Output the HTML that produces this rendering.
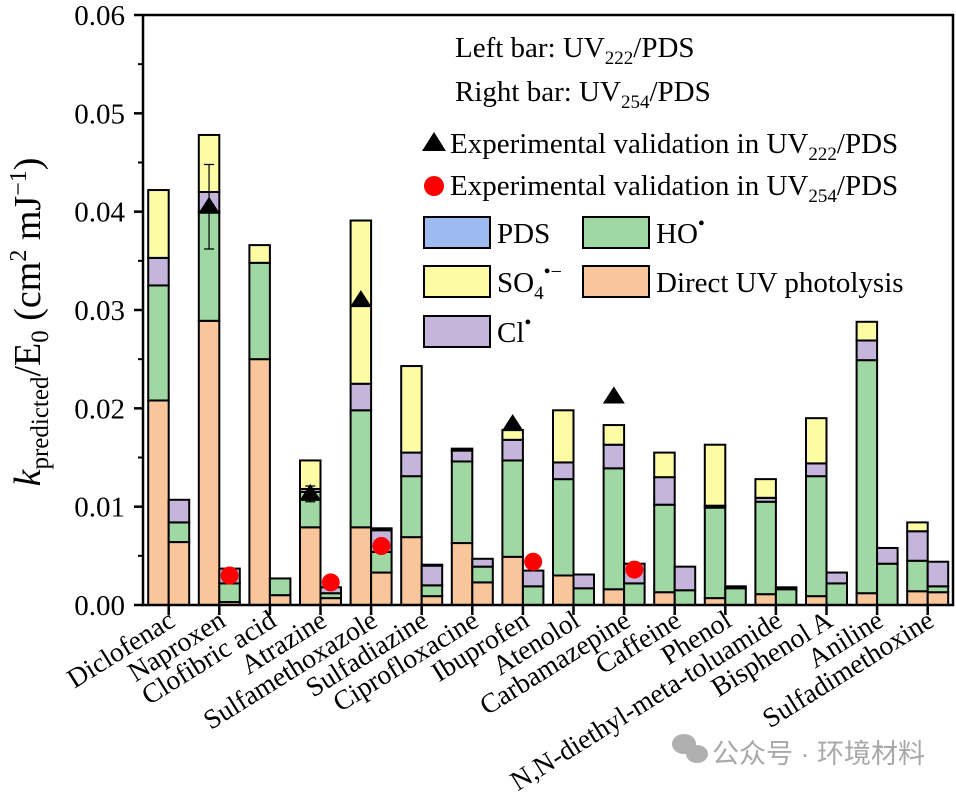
<!DOCTYPE html>
<html><head><meta charset="utf-8"><style>
body{margin:0;background:#fff}
svg{display:block;font-family:"Liberation Serif",serif}
</style></head><body>
<svg id="chart" width="956" height="792"></svg>
<script>
const categories=["Diclofenac","Naproxen","Clofibric acid","Atrazine","Sulfamethoxazole","Sulfadiazine","Ciprofloxacine","Ibuprofen","Atenolol","Carbamazepine","Caffeine","Phenol","N,N-diethyl-meta-toluamide","Bisphenol A","Aniline","Sulfadimethoxine"];
// left bar (UV222/PDS) segments
const leftUV=[.0208,.0289,.0250,.0079,.0079,.0069,.0063,.0049,.0030,.0016,.0013,.0007,.0011,.0009,.0012,.0014];
const leftHO=[.0117,.0111,.0098,.0036,.0119,.0062,.0083,.0098,.0098,.0123,.0089,.0092,.0094,.0122,.0237,.0031];
const leftCl=[.0028,.0020,0,.0003,.0027,.0024,.0011,.0021,.0017,.0024,.0028,.0002,.0004,.0013,.0020,.0030];
const leftSO4=[.0069,.0058,.0018,.0029,.0166,.0088,0,.0010,.0053,.0020,.0025,.0062,.0019,.0046,.0019,.0009];
const leftPDS=[0,0,0,0,0,0,.0002,0,0,0,0,0,0,0,0,0];
// right bar (UV254/PDS) segments
const rightUV=[.0064,.0003,.0010,.0007,.0033,.0009,.0023,0,0,0,0,0,0,0,0,.0013];
const rightHO=[.0020,.0019,.0017,.0005,.0021,.0011,.0016,.0019,.0017,.0022,.0015,.0017,.0016,.0022,.0042,.0006];
const rightCl=[.0023,.0015,0,.0006,.0022,.0020,.0008,.0016,.0014,.0020,.0024,.0002,.0002,.0011,.0016,.0025];
const rightSO4=[0,0,0,0,0,0,0,0,0,0,0,0,0,0,0,0];
const rightPDS=[0,0,0,0,.0002,.0001,0,0,0,0,0,0,0,0,0,0];
// experimental markers
const triIdx=[1,3,4,7,9];
const triVal=[.0405,.0113,.0310,.0184,.0212];
const triErr=[.0043,.0008,0,0,0];
const dotIdx=[1,3,4,7,9];
const dotVal=[.0030,.0023,.0060,.0044,.0036];
const yTicks=[0,0.01,0.02,0.03,0.04,0.05,0.06];
const yTickLabels=["0.00","0.01","0.02","0.03","0.04","0.05","0.06"];

const NS="http://www.w3.org/2000/svg";
const svg=document.getElementById('chart');
const X0=143,X1=953,Y0=605,Y1=15,YMAX=0.06;
const step=50.6, first=168.7, bw=20.5;
const y=v=>Y0-(v/YMAX)*(Y0-Y1);
const xc=i=>first+i*step;
function el(t,a,p){const e=document.createElementNS(NS,t);for(const k in a)e.setAttribute(k,a[k]);(p||svg).appendChild(e);return e;}
const colors={uv:"#f9c69b",ho:"#a0d8a3",cl:"#c5b4dc",so4:"#fdfca5",pds:"#9dbbf0"};

function stack(i,x,segs,side){
  let acc=0;
  segs.forEach(([arr,c,nm])=>{
    const v=arr[i]; if(v<=0)return;
    const r=el('rect',{x:x,y:y(acc+v),width:bw,height:y(acc)-y(acc+v),fill:c,stroke:"#000","stroke-width":2});
    
    
    acc+=v;
  });
}
categories.forEach((c,i)=>{
  stack(i,xc(i)-bw,[[leftUV,colors.uv,'uv'],[leftHO,colors.ho,'ho'],[leftCl,colors.cl,'cl'],[leftSO4,colors.so4,'so4'],[leftPDS,colors.pds,'pds']],'left');
  stack(i,xc(i),[[rightUV,colors.uv,'uv'],[rightHO,colors.ho,'ho'],[rightCl,colors.cl,'cl'],[rightSO4,colors.so4,'so4'],[rightPDS,colors.pds,'pds']],'right');
});
// axes
const ax=el('path',{d:`M${X0},${Y1} L${X0},${Y0} L${X1},${Y0} L${X1},${Y1} L${X0},${Y1}`,fill:"none",stroke:"#000","stroke-width":2.5});

yTicks.forEach((t,k)=>{
  el('line',{x1:X0-9,x2:X0,y1:y(t),y2:y(t),stroke:"#000","stroke-width":2.5});
  if(k<yTicks.length-1) el('line',{x1:X0-5,x2:X0,y1:y(t+0.005),y2:y(t+0.005),stroke:"#000","stroke-width":2});
  const tx=el('text',{x:X0-18,y:y(t)+10,"text-anchor":"end","font-size":29});
  tx.textContent=yTickLabels[k];
  
});
categories.forEach((c,i)=>{
  el('line',{x1:xc(i),x2:xc(i),y1:Y0,y2:Y0+10,stroke:"#000","stroke-width":2.5});
  const ax_=xc(i)+8, ay_=Y0+20;
  const t=el('text',{x:ax_,y:ay_,"text-anchor":"end","font-size":27.5,transform:`rotate(-32 ${ax_} ${ay_})`});
  t.textContent=c;
  
});
// markers
triIdx.forEach((ci,k)=>{
  const cx=xc(ci)-bw/2, cy=y(triVal[k]);
  if(triErr[k]>0){
    el('path',{d:`M${cx},${y(triVal[k]-triErr[k])} L${cx},${y(triVal[k]+triErr[k])} M${cx-5},${y(triVal[k]-triErr[k])} h10 M${cx-5},${y(triVal[k]+triErr[k])} h10`,stroke:"#000","stroke-width":1.2,fill:"none"});
  }
  const p=el('polygon',{points:`${cx},${cy-10} ${cx-11},${cy+7} ${cx+11},${cy+7}`,fill:"#000"});
  
});
dotIdx.forEach((ci,k)=>{
  const c=el('circle',{cx:xc(ci)+bw/2,cy:y(dotVal[k]),r:9,fill:"#f00"});
  
});
// y axis title
const yt=el('text',{x:0,y:0,"font-size":38,"text-anchor":"middle",transform:"translate(40,322) rotate(-90)"});

yt.innerHTML='<tspan font-style="italic">k</tspan><tspan font-size="25" dy="8">predicted</tspan><tspan dy="-8">/E</tspan><tspan font-size="25" dy="8">0</tspan><tspan dy="-8"> (cm</tspan><tspan font-size="24" dy="-14">2</tspan><tspan dy="14"> mJ</tspan><tspan font-size="24" dy="-14">−1</tspan><tspan dy="14">)</tspan>';
// legend
function txt(x,yy,html,name){const t=el('text',{x:x,y:yy,"font-size":29});t.innerHTML=html;return t;}
txt(455,57,'Left bar: UV<tspan font-size="19" dy="7">222</tspan><tspan dy="-7">/PDS</tspan>','legend-left-bar');
txt(455,101,'Right bar: UV<tspan font-size="19" dy="7">254</tspan><tspan dy="-7">/PDS</tspan>','legend-right-bar');
el('polygon',{points:"434,132 422,151 446,151",fill:"#000"});
txt(450,153,'Experimental validation in UV<tspan font-size="19" dy="7">222</tspan><tspan dy="-7">/PDS</tspan>','legend-uv222-validation');
el('circle',{cx:434,cy:186,r:10,fill:"#f00"});
txt(450,195,'Experimental validation in UV<tspan font-size="19" dy="7">254</tspan><tspan dy="-7">/PDS</tspan>','legend-uv254-validation');
[[424,217,colors.pds,'PDS','legend-pds'],[424,266,colors.so4,'SO<tspan font-size="19" dy="7">4</tspan><tspan font-size="20" dy="-21">•−</tspan>','legend-so4'],[424,316,colors.cl,'Cl<tspan font-size="20" dy="-13">•</tspan>','legend-cl'],[583,217,colors.ho,'HO<tspan font-size="20" dy="-13">•</tspan>','legend-ho'],[583,266,colors.uv,'Direct UV photolysis','legend-uv']].forEach(([x,yy,c,h,n])=>{
  el('rect',{x:x,y:yy,width:66,height:31,fill:c,stroke:"#000","stroke-width":2});
  txt(x+73,yy+26,h,n);
});
const ic=el('g',{fill:"#b0b0b0"});

el('ellipse',{cx:684,cy:744,rx:12,ry:10},ic);
el('ellipse',{cx:697,cy:754,rx:11,ry:9},ic);
const wm=el('text',{x:712,y:763,"font-size":27,fill:"#a8a8a8","font-family":"\"Liberation Sans\",\"Noto Sans CJK SC\",sans-serif"});
wm.textContent='公众号 · 环境材料';

</script>
</body></html>
